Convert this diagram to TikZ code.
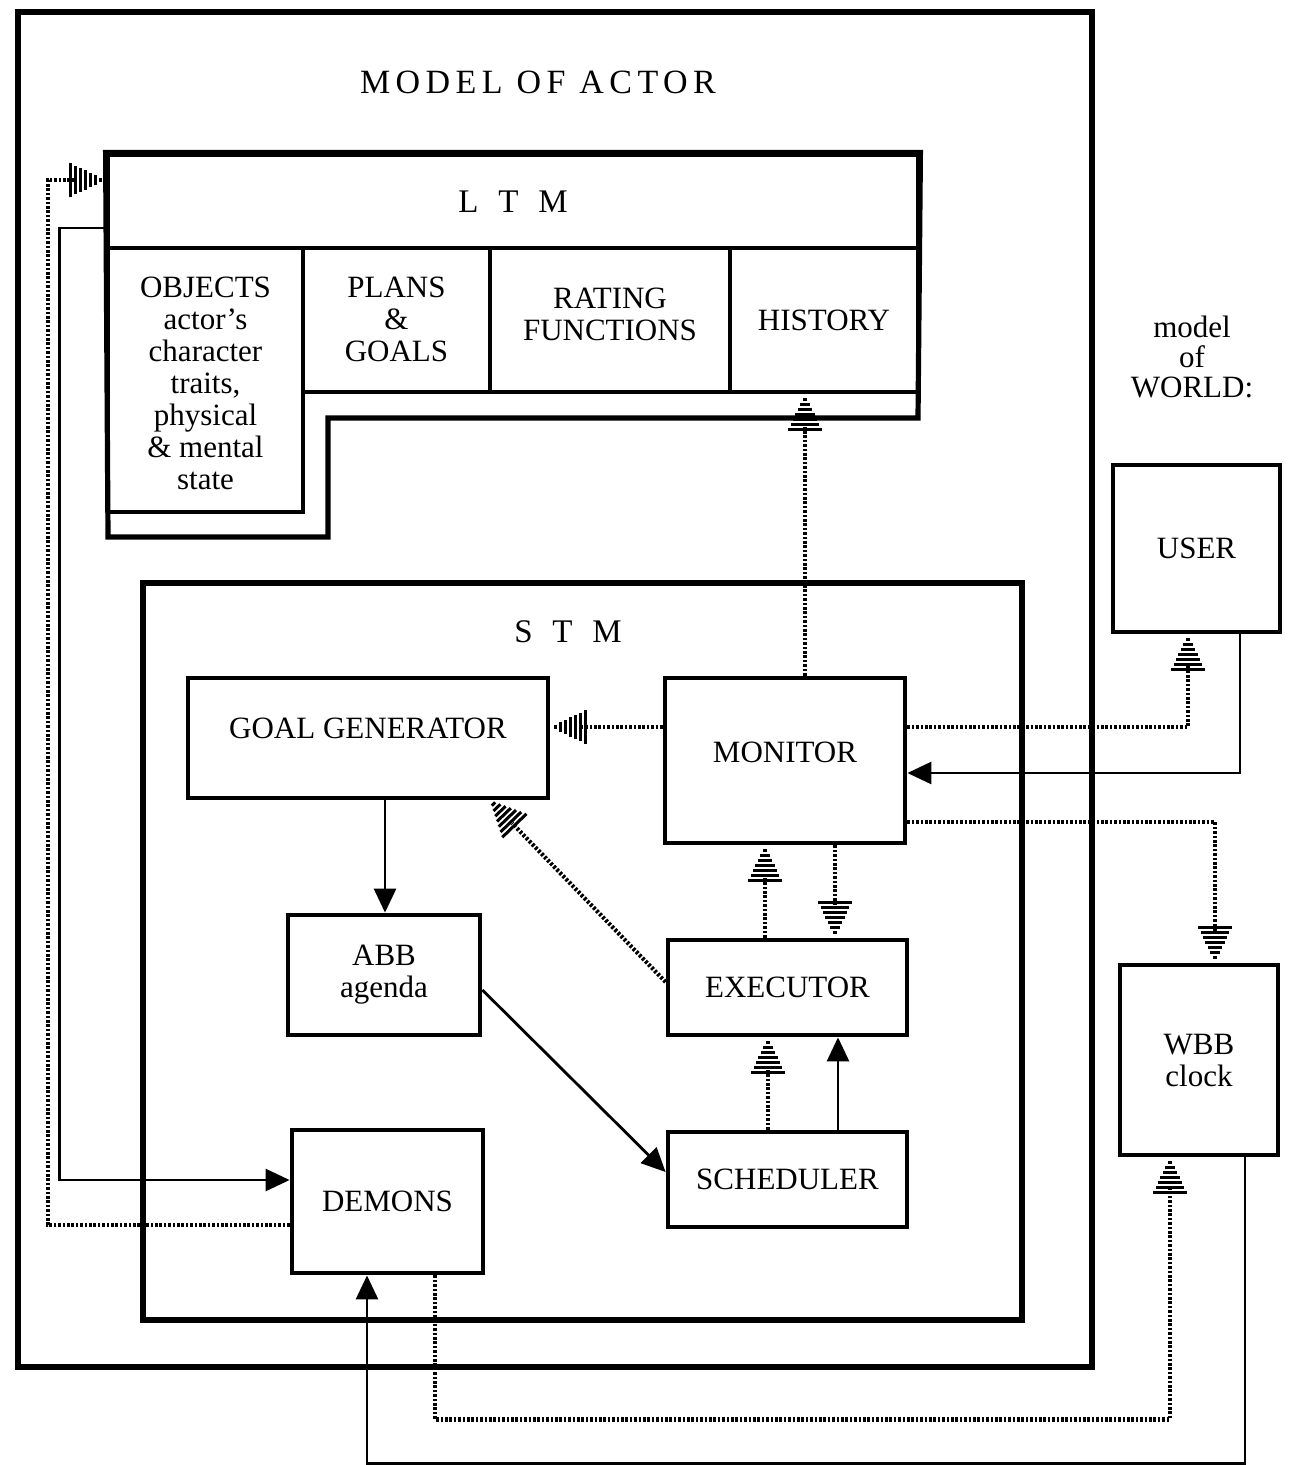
\documentclass[tikz,border=0pt]{standalone}
\usepackage{fontspec}
\setmainfont{Liberation Serif}
\usetikzlibrary{arrows.meta,positioning}

% striped tip for the dotted (data) lines
\pgfdeclarearrow{
  name = Striped,
  setup code = {
    \pgfarrowssettipend{0pt}
    \pgfarrowssetlineend{-16pt}
    \pgfarrowssetvisualbackend{-18pt}
    \pgfarrowssetbackend{-18pt}
    \pgfarrowshullpoint{0pt}{0pt}
    \pgfarrowshullpoint{-18pt}{8.5pt}
    \pgfarrowshullpoint{-18pt}{-8.5pt}
  },
  drawing code = {
    \pgfsetdash{}{0pt}
    \pgfsetbuttcap
    \pgfsetlinewidth{1.5pt}
    \foreach \k in {1,...,7}{
      \pgfpathmoveto{\pgfpoint{-2.5pt*\k}{-1.2pt*\k}}
      \pgfpathlineto{\pgfpoint{-2.5pt*\k}{1.2pt*\k}}
      \pgfusepathqstroke
    }
  }
}

\tikzset{
  blk/.style={draw, line width=2.4pt, align=center, inner sep=2pt,
    font=\fontsize{15.5}{16}\selectfont},
  frame/.style={line width=2.6pt},
  dotline/.style={line width=2.1pt, dash pattern=on 1.3pt off 0.9pt, -{Striped}},
  solline/.style={line width=1.4pt, -{Triangle[length=12pt,width=11pt]}},
  lbl/.style={font=\fontsize{16.5}{18}\selectfont}
}

\begin{document}
\begin{tikzpicture}[x=0.5pt,y=-0.5pt]
  \useasboundingbox (0,0) rectangle (1296,1465);

  % model of actor
  \draw[frame] (18,12) rectangle (1092,1367);
  \node[font=\fontsize{17}{18}\selectfont] (title) at (538,82)
    {\addfontfeature{LetterSpace=16}MODEL OF ACTOR};

  % LTM
  \node[blk, minimum width=405pt, minimum height=46.5pt, lbl] (ltm) at (513,201.5)
    {L\hspace{0.6em}T\hspace{0.6em}M};
  \node[blk, minimum width=97.5pt, minimum height=132pt] (obj) at (205.5,380)
    {\mbox{}\\[-2pt]OBJECTS\\actor's\\character\\traits,\\physical\\\& mental\\state};
  \node[blk, minimum width=93.5pt, minimum height=72pt] (plans) at (396.5,320)
    {\mbox{}\\[-6pt]PLANS\\\&\\GOALS};
  \node[blk, minimum width=120pt, minimum height=72pt] (rate) at (610,320)
    {RATING\\FUNCTIONS\\[-10pt]\mbox{}};
  \node[blk, minimum width=94pt, minimum height=72pt] (hist) at (824,320)
    {HISTORY};
  \draw[frame] (ltm.north west) -- (ltm.north east) -- (918,418) -- (328,418)
    -- (328,537) -- (108,537) -- cycle;

  % STM
  \draw[frame] (143,583) rectangle (1022,1320);
  \node[lbl] (stmlbl) at (568,632) {S\hspace{0.6em}T\hspace{0.6em}M};

  \node[blk, minimum width=180pt, minimum height=60pt] (gg) at (368,738)
    {GOAL GENERATOR\\[-6pt]\mbox{}};
  \node[blk, minimum width=120pt, minimum height=82.5pt] (mon) at (785,760.5)
    {MONITOR\\[-8pt]\mbox{}};
  \node[blk, minimum width=96pt, minimum height=60pt] (abb) at (384,975) {ABB\\agenda};
  \node[blk, minimum width=119.5pt, minimum height=47.5pt] (exe) at (787.5,987.5) {EXECUTOR};
  \node[blk, minimum width=119.5pt, minimum height=47.5pt] (sch) at (787.5,1179.5) {SCHEDULER};
  \node[blk, minimum width=95.5pt, minimum height=71.5pt] (dem) at (387.5,1201.5) {DEMONS};

  % world
  \node[font=\fontsize{15.5}{15}\selectfont, align=center] (world) at (1192,357)
    {model\\of\\WORLD:};
  \node[blk, minimum width=83.5pt, minimum height=83.5pt] (user) at (1196.5,548.5) {USER};
  \node[blk, minimum width=79pt, minimum height=95pt] (wbb) at (1199,1060) {WBB\\clock};

  % connectors
  \draw[dotline] (mon.west |- 0,727) -- (gg.east |- 0,727);
  \draw[dotline] (mon.north -| 805,0) -- (hist.south -| 805,0);
  \draw[solline] (gg.south -| 385,0) -- (abb.north -| 385,0);
  \draw[dotline] (exe.west |- 0,982) -- (gg.south -| 490,0);
  \draw[dotline] (exe.north -| 765,0) -- (mon.south -| 765,0);
  \draw[dotline] (mon.south -| 835,0) -- (exe.north -| 835,0);
  \draw[dotline] (sch.north -| 768,0) -- (exe.south -| 768,0);
  \draw[solline] (sch.north -| 838,0) -- (exe.south -| 838,0);
  \draw[solline] (abb.east |- 0,990) -- (sch.west |- 0,1172);
  \draw[dotline] (mon.east |- 0,727) -| (user.south -| 1188,0);
  \draw[solline] (user.south -| 1240,0) |- (mon.east |- 0,773);
  \draw[dotline] (mon.east |- 0,822) -| (wbb.north -| 1215,0);
  \draw[dotline] (dem.south -| 435,0) -- ++(0,144) -| (wbb.south -| 1170,0);
  \draw[solline] (wbb.south -| 1245,0) -- ++(0,306) -| (dem.south -| 367,0);
  \draw[dotline] (dem.west |- 0,1225) -- ++(-242,0) |- (ltm.west |- 0,180);
  \draw[solline] (ltm.west |- 0,228) -- ++(-46,0) |- (dem.west |- 0,1180);
\end{tikzpicture}
\end{document}
